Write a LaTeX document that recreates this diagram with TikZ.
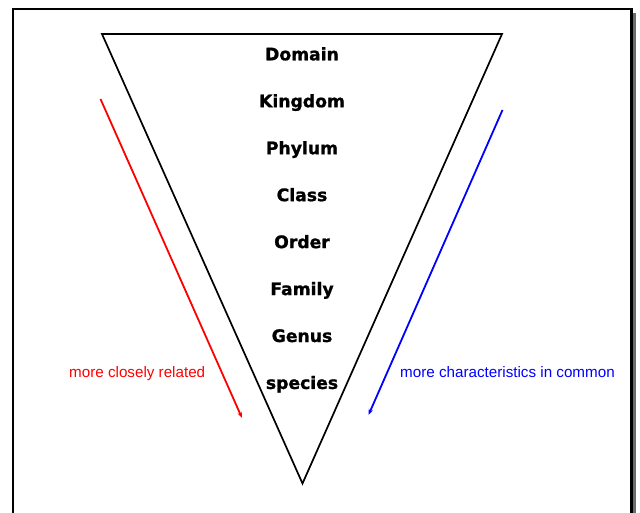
\documentclass[tikz,border=0pt]{standalone}
\usepackage{fontspec}
\setmainfont{DejaVu Sans}
\newfontfamily\arialfont{Liberation Sans}
\newfontfamily\rankfont[FakeBold=1.2]{DejaVu Sans Bold}
\usetikzlibrary{arrows.meta}
\begin{document}
\begin{tikzpicture}[x=1pt,y=-1pt,
  rank/.style={font=\rankfont\fontsize{17.2}{20}\selectfont, anchor=base, inner sep=0pt},
  note/.style={font=\arialfont\fontsize{15.2}{18}\selectfont, anchor=base west, inner sep=0pt},
  pointer/.style={line width=1.8pt, -{Stealth[length=6pt,width=4.5pt]}}]
\useasboundingbox (0,0) rectangle (640,513);
\clip (0,0) rectangle (640,513);
% frame with shadow
\fill[gray!85!black] (17.3,13.3) rectangle (635.5,540);
\draw[line width=2.2pt, fill=white] (13.3,9.3) rectangle (631.5,540);
% triangle
\coordinate (tl) at (102,34);
\coordinate (tr) at (502,34);
\coordinate (bt) at (302.5,483.5);
\draw[line width=1.7pt, line join=miter] (tl) -- (tr) -- (bt) -- cycle;
% ranks
\foreach \name [count=\i from 0] in {Domain,Kingdom,Phylum,Class,Order,Family,Genus,species}
  \node[rank] (r\i) at (302,60.3+46.95*\i) {\name};
% arrows
\coordinate (ra) at (100.5,99);
\coordinate (rb) at (242,418);
\coordinate (ba) at (502.5,110);
\coordinate (bb) at (368.5,415);
\draw[pointer, red] (ra) -- (rb);
\draw[pointer, blue] (ba) -- (bb);
% notes
\node[note, text=red] (nl) at (69,377) {more closely related};
\node[note, text=blue] (nr) at (400,377) {more characteristics in common};
\end{tikzpicture}
\end{document}
